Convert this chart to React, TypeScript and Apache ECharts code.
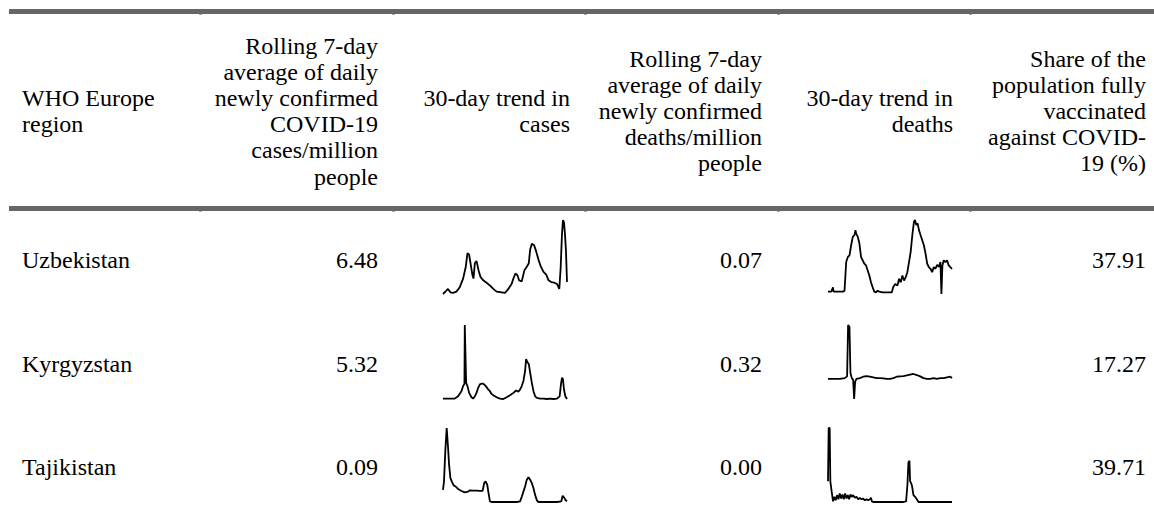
import React, { useEffect, useRef } from "react";
import * as echarts from "echarts";

// ---------- data ----------
const headerTexts = [
  "WHO Europe\nregion",
  "Rolling 7-day\naverage of daily\nnewly confirmed\nCOVID-19\ncases/million\npeople",
  "30-day trend in\ncases",
  "Rolling 7-day\naverage of daily\nnewly confirmed\ndeaths/million\npeople",
  "30-day trend in\ndeaths",
  "Share of the\npopulation fully\nvaccinated\nagainst COVID-\n19 (%)",
];

const regions = ["Uzbekistan", "Kyrgyzstan", "Tajikistan"];
const casesPerMillion = ["6.48", "5.32", "0.09"];
const deathsPerMillion = ["0.07", "0.32", "0.00"];
const sharesVaccinated = ["37.91", "17.27", "39.71"];

// sparkline series: [day, relative value]
const uzbekistanCases: number[][] = [
  [0, 0], [10, 4.5], [15, 6.8], [22, 2.3], [30, 1.4], [40, 3.2], [50, 9.1], [60, 20.5], [68, 36.4],
  [73, 54.5], [78, 52.3], [83, 38.6], [88, 25], [91, 20.5], [95, 40.9], [100, 44.1], [106, 31.8],
  [112, 22.7], [120, 18.2], [130, 15], [140, 11.4], [150, 6.8], [160, 3.2], [175, 2.3], [185, 1.4],
  [195, 6.8], [205, 13.6], [210, 20.5], [216, 27.3], [222, 25], [227, 18.2], [235, 16.8], [243, 31.8],
  [250, 36.4], [256, 40.9], [260, 59.1], [265, 66.8], [272, 65], [278, 56.8], [285, 45.5], [292, 36.4],
  [300, 29.5], [308, 25.9], [315, 18.2], [323, 15.9], [332, 15], [340, 13.6], [347, 6.8], [351, 34.1],
  [355, 79.5], [358, 98.6], [361, 95.5], [364, 79.5], [367, 56.8], [370, 15.9],
];
const uzbekistanDeaths: number[][] = [
  [0, 3.2], [10, 3.2], [15, 9.1], [17, 3.2], [25, 3.2], [45, 3.2], [50, 4.5], [55, 43.2], [60, 50],
  [65, 52.3], [70, 65.9], [75, 77.3], [80, 79.5], [83, 86.4], [85, 81.8], [90, 77.3], [95, 68.2],
  [100, 50], [105, 45.5], [110, 40.9], [115, 38.6], [120, 31.8], [125, 25], [130, 15.9], [135, 9.1],
  [140, 3.2], [145, 2.3], [150, 4.5], [155, 3.2], [165, 2.3], [175, 2.3], [185, 2.3], [193, 2.3],
  [197, 9.1], [203, 13.6], [210, 11.4], [215, 20.5], [220, 15.9], [225, 25], [230, 18.2], [235, 22.7],
  [240, 29.5], [245, 43.2], [250, 56.8], [255, 79.5], [260, 97.7], [263, 100], [267, 93.2], [271, 95.5],
  [275, 86.4], [280, 79.5], [285, 72.7], [290, 65.9], [295, 54.5], [300, 40.9], [305, 36.4], [310, 34.1],
  [315, 29.5], [320, 36.4], [325, 34.1], [330, 39.5], [335, 36.4], [340, 43.2], [343, 0], [346, 38.6],
  [350, 45.5], [355, 43.2], [360, 45.5], [365, 38.6], [370, 36.4], [375, 34.1],
];
const kyrgyzstanCases: number[][] = [
  [0, 1.4], [20, 1.4], [35, 1.4], [45, 4.5], [55, 11.4], [60, 18.2], [64, 21.4], [65, 100], [67, 100],
  [69, 22.7], [73, 18.2], [78, 9.1], [85, 3.2], [90, 1.4], [95, 4.5], [100, 9.1], [105, 15.9], [110, 20.5],
  [115, 21.4], [120, 21.4], [125, 19.5], [130, 16.8], [135, 13.6], [140, 11.4], [145, 7.7], [150, 5.9],
  [160, 3.2], [170, 1.4], [180, 0.9], [190, 3.2], [200, 5.9], [210, 9.1], [218, 12.3], [225, 10.5],
  [230, 13.6], [235, 18.2], [240, 25], [245, 38.6], [248, 54.5], [252, 50], [256, 47.7], [260, 36.4],
  [265, 22.7], [270, 11.4], [275, 4.5], [280, 2.3], [290, 1.4], [300, 1.4], [310, 0.9], [320, 1.4],
  [330, 0.9], [340, 1.4], [348, 4.5], [352, 20.5], [355, 29.5], [358, 27.3], [361, 13.6], [365, 4.5],
  [370, 0.9],
];
const kyrgyzstanDeaths: number[][] = [
  [0, 27.3], [15, 27.3], [35, 27.3], [50, 28.2], [57, 30.6], [60, 100], [64, 97.7], [67, 35.2], [71, 28.2],
  [75, 25.9], [78, 0], [81, 23.6], [85, 27.3], [95, 28.2], [105, 30.1], [115, 31], [125, 30.1], [135, 29.2],
  [145, 28.2], [155, 28.2], [165, 27.8], [175, 27.3], [185, 27.3], [195, 28.2], [205, 30.1], [215, 30.6],
  [225, 31], [235, 31.9], [245, 32.9], [255, 33.8], [265, 32.4], [275, 30.6], [285, 28.2], [295, 27.3],
  [305, 27.3], [315, 28.2], [325, 27.3], [335, 28.2], [345, 28.2], [355, 29.2], [365, 30.1], [370, 28.2],
];
const tajikistanCases: number[][] = [
  [0, 16.3], [3, 27.9], [7, 69.8], [11, 100], [15, 74.4], [18, 51.2], [22, 32.6], [26, 27.9], [32, 22.3],
  [38, 20.9], [45, 17.7], [55, 14.9], [65, 13], [75, 14], [80, 15.8], [90, 15.3], [100, 15.3], [110, 14.9],
  [118, 14.9], [123, 25.6], [127, 27.9], [132, 23.3], [136, 11.6], [140, 0.9], [145, 0], [160, 0], [180, 0],
  [200, 0], [220, 0], [230, 0.9], [235, 7], [240, 14], [245, 20.9], [250, 30.2], [255, 33.5], [260, 30.2],
  [265, 25.6], [270, 18.6], [275, 9.3], [280, 2.3], [285, 0], [300, 0], [320, 0], [340, 0], [353, 0.9],
  [357, 8.4], [362, 5.6], [366, 2.3], [370, 0.9],
];
const tajikistanDeaths: number[][] = [
  [0, 27.9], [2, 100], [5, 100], [7, 27.9], [11, 14], [15, 0.9], [19, 7], [23, 2.3], [27, 9.3], [31, 3.7],
  [35, 11.6], [39, 4.7], [43, 10.2], [47, 3.7], [51, 11.6], [55, 4.7], [59, 9.3], [63, 3.7], [67, 10.2],
  [71, 7], [75, 9.3], [80, 5.6], [85, 7], [90, 3.7], [95, 5.6], [100, 3.7], [105, 4.7], [110, 2.3],
  [115, 3.7], [120, 2.3], [125, 3.7], [128, 5.6], [131, 0.9], [135, 0], [150, 0], [170, 0], [190, 0],
  [210, 0], [225, 0], [233, 0.9], [237, 23.3], [240, 53.5], [243, 55.8], [245, 27.9], [248, 25.6],
  [251, 20.9], [255, 9.3], [260, 7], [265, 3.7], [270, 0], [290, 0], [310, 0], [330, 0], [350, 0], [370, 0],
];

const caseTrends = [uzbekistanCases, kyrgyzstanCases, tajikistanCases];
const deathTrends = [uzbekistanDeaths, kyrgyzstanDeaths, tajikistanDeaths];

// ---------- layout ----------
const FONT_FAMILY = "Liberation Serif";
const FONT_SIZE = 24;
const LINE_H = 26.2;
const headerRight = [22, 378, 570, 762, 953, 1146];
const headerCenterY = 111;
const rowCenterY = [260, 364, 467];
const sparkLeft = [443, 828];
const sparkWidth = 124;
const sparkTop = [220, 325, 428];
const sparkHeight = 74;
const colBounds = [200, 393, 585, 778, 970];

function txt(text: string, x: number, y: number, align: string) {
  return {
    type: "text",
    x,
    y,
    silent: true,
    style: {
      text,
      fontFamily: FONT_FAMILY,
      fontSize: FONT_SIZE,
      fill: "#000",
      textAlign: align,
      align,
      textVerticalAlign: "middle",
      verticalAlign: "middle",
      lineHeight: LINE_H,
    },
  };
}

export default function App() {
  const ref = useRef<HTMLDivElement>(null);
  useEffect(() => {
    document.body.style.margin = "0";
    if (!ref.current) return;
    const chart = echarts.init(ref.current, null, { renderer: "svg" });

    const graphics: any[] = [];
    // rules
    [9, 206].forEach((y) => {
      graphics.push({ type: "rect", silent: true, shape: { x: 9, y, width: 1145, height: 5 }, style: { fill: "#666" } });
      colBounds.forEach((bx) => {
        graphics.push({ type: "rect", silent: true, shape: { x: bx - 1, y: y + 5, width: 3, height: 1 }, style: { fill: "#aaa" } });
      });
    });
    headerTexts.forEach((h, i) => {
      graphics.push(txt(h, headerRight[i], headerCenterY, i === 0 ? "left" : "right"));
    });
    regions.forEach((r, i) => {
      const y = rowCenterY[i];
      graphics.push(txt(r, 22, y, "left"));
      graphics.push(txt(casesPerMillion[i], headerRight[1], y, "right"));
      graphics.push(txt(deathsPerMillion[i], headerRight[3], y, "right"));
      graphics.push(txt(sharesVaccinated[i], headerRight[5], y, "right"));
    });

    const grids: any[] = [];
    const xAxes: any[] = [];
    const yAxes: any[] = [];
    const series: any[] = [];
    regions.forEach((_, r) => {
      [caseTrends[r], deathTrends[r]].forEach((data, c) => {
        const idx = grids.length;
        grids.push({ left: sparkLeft[c], top: sparkTop[r], width: sparkWidth, height: sparkHeight, containLabel: false });
        xAxes.push({ type: "value", gridIndex: idx, min: 0, max: "dataMax", show: false });
        yAxes.push({ type: "value", gridIndex: idx, min: "dataMin", max: "dataMax", show: false, scale: true });
        series.push({
          type: "line",
          xAxisIndex: idx,
          yAxisIndex: idx,
          data,
          showSymbol: false,
          symbol: "none",
          silent: true,
          lineStyle: { color: "#000", width: 1.8 },
        });
      });
    });

    chart.setOption({
      animation: false,
      backgroundColor: "#fff",
      grid: grids,
      xAxis: xAxes,
      yAxis: yAxes,
      series,
      graphic: graphics,
    });
    return () => chart.dispose();
  }, []);
  return <div ref={ref} style={{ width: 1154, height: 514 }} />;
}
